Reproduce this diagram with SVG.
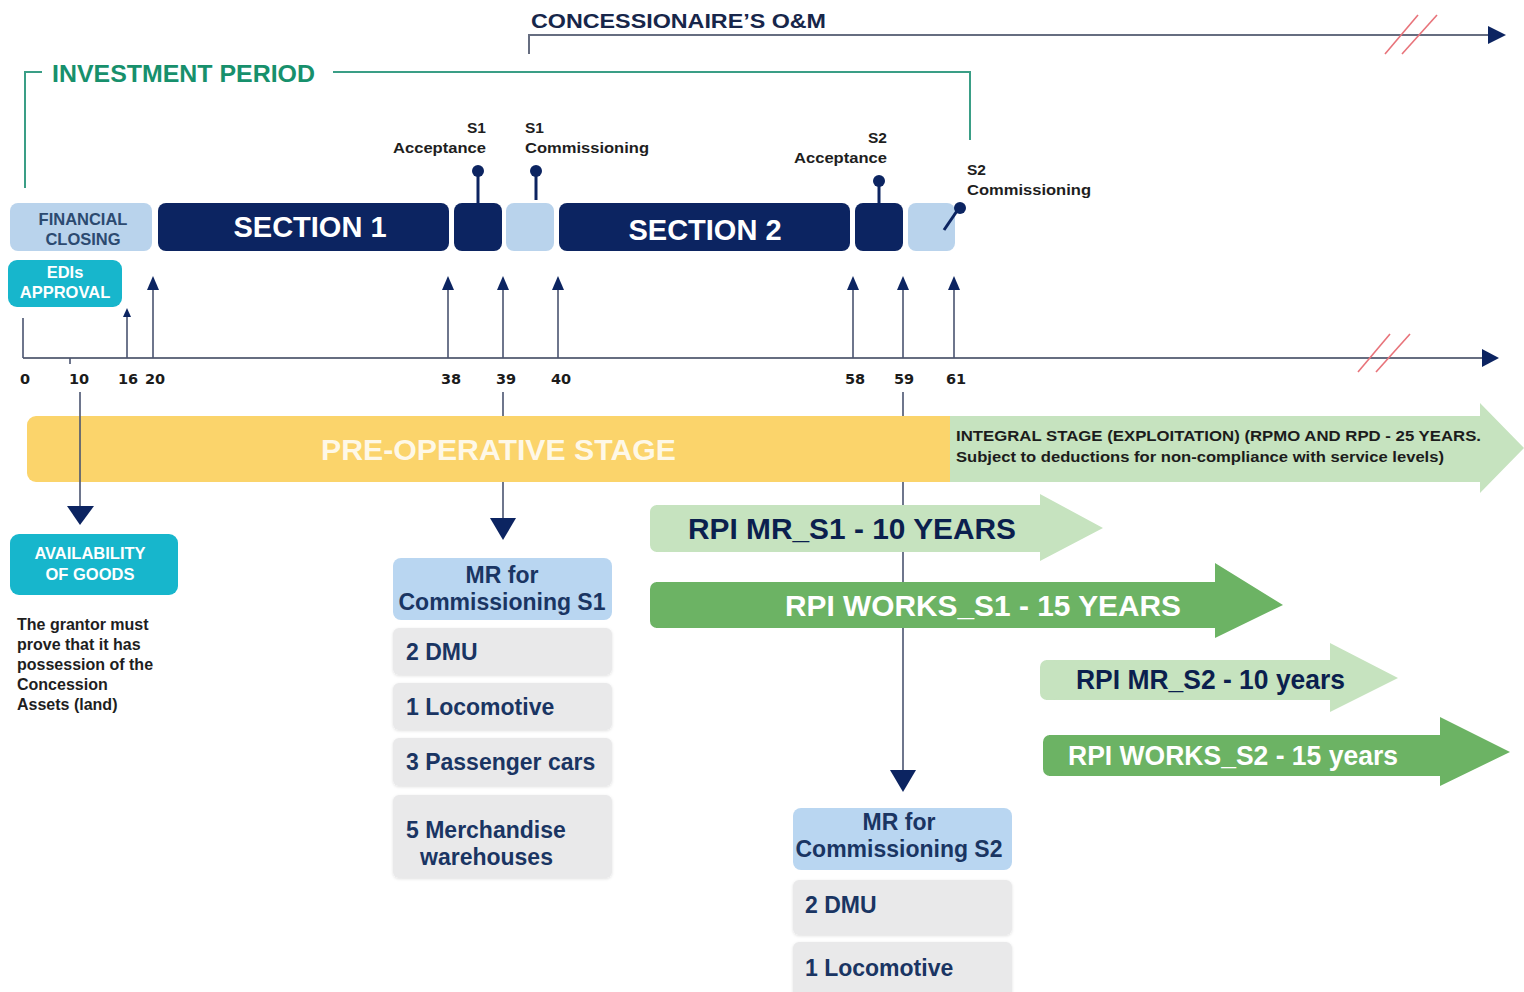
<svg xmlns="http://www.w3.org/2000/svg" width="1524" height="992" viewBox="0 0 1524 992">
  <style>
    .sans { font-family: "Liberation Sans", Arial, sans-serif; font-weight: bold; }
    .num { font-family: "DejaVu Sans", Verdana, sans-serif; font-weight: bold; font-size: 14.5px; fill: #1b1b1b; text-anchor: middle; }
    .mile { font-family: "Liberation Sans", Arial, sans-serif; font-weight: bold; font-size: 15.5px; fill: #1e1e1e; }
    .navy { fill: #0c2461; }
    .pale { fill: #b9d3ec; }
    .cyan { fill: #17b6cc; }
    .hdr { fill: #b9d6f1; }
    .item { fill: #e9e9ea; filter: url(#soft); }
    .itemtx { font-family: "Liberation Sans", Arial, sans-serif; font-weight: bold; font-size: 23px; fill: #1a3563; }
    .axis { stroke: #666d80; stroke-width: 2; fill: none; }
    .conn { stroke: #4a5470; stroke-width: 1.6; fill: none; }
    .head { fill: #0c2461; }
    .pin { stroke: #0c2461; stroke-width: 3; fill: none; }
    .hash { stroke: #e8737a; stroke-width: 1.6; fill: none; }
    .teal { stroke: #3a9e86; stroke-width: 2; fill: none; }
    .lgreen { fill: #c6e3bf; }
    .mgreen { fill: #6cb364; }
  </style>
  <defs>
    <filter id="soft" x="-5%" y="-10%" width="110%" height="130%">
      <feDropShadow dx="0" dy="1" stdDeviation="1.5" flood-color="#000" flood-opacity="0.12"/>
    </filter>
  </defs>

  <rect width="1524" height="992" fill="#ffffff"/>

  <!-- concessionaire O&M bracket -->
  <g id="om-period">
    <text class="sans" x="531" y="28" font-size="21" fill="#17264a" textLength="295" lengthAdjust="spacingAndGlyphs">CONCESSIONAIRE’S O&amp;M</text>
    <polyline class="axis" points="529,54 529,35 1490,35"/>
    <polygon class="head" points="1488,26 1506,35 1488,44"/>
    <line class="hash" x1="1385" y1="54" x2="1418" y2="15"/>
    <line class="hash" x1="1402" y1="54" x2="1437" y2="15"/>
  </g>

  <!-- investment period bracket -->
  <g id="investment-period">
    <polyline class="teal" points="25,188 25,72 42,72"/>
    <polyline class="teal" points="333,72 970,72 970,140"/>
    <text class="sans" x="52" y="82" font-size="23" fill="#17906c" textLength="263" lengthAdjust="spacingAndGlyphs">INVESTMENT PERIOD</text>
  </g>

  <!-- phase bars -->
  <g id="financial-closing">
    <rect class="pale" x="10" y="203" width="142" height="48" rx="8"/>
    <text class="sans" font-size="16.5" fill="#2c4a70" text-anchor="middle"><tspan x="83" y="225">FINANCIAL</tspan><tspan x="83" y="245">CLOSING</tspan></text>
  </g>
  <g id="section-1">
    <rect class="navy" x="158" y="203" width="291" height="48" rx="8"/>
    <text class="sans" x="310" y="237" font-size="29" fill="#ffffff" text-anchor="middle">SECTION 1</text>
  </g>
  <g id="s1-acceptance">
    <rect class="navy" x="454" y="203" width="48" height="48" rx="8"/>
    <line class="pin" x1="478" y1="171" x2="478" y2="203"/>
    <circle class="head" cx="478" cy="171" r="6"/>
    <text class="mile" text-anchor="end"><tspan x="486" y="133">S1</tspan><tspan x="486" y="153" textLength="93" lengthAdjust="spacingAndGlyphs">Acceptance</tspan></text>
  </g>
  <g id="s1-commissioning">
    <rect class="pale" x="506" y="203" width="48" height="48" rx="8"/>
    <line class="pin" x1="536" y1="171" x2="536" y2="200"/>
    <circle class="head" cx="536" cy="171" r="6"/>
    <text class="mile"><tspan x="525" y="133">S1</tspan><tspan x="525" y="153" textLength="124" lengthAdjust="spacingAndGlyphs">Commissioning</tspan></text>
  </g>
  <g id="section-2">
    <rect class="navy" x="559" y="203" width="291" height="48" rx="8"/>
    <text class="sans" x="705" y="240" font-size="29" fill="#ffffff" text-anchor="middle">SECTION 2</text>
  </g>
  <g id="s2-acceptance">
    <rect class="navy" x="855" y="203" width="48" height="48" rx="8"/>
    <line class="pin" x1="879" y1="181" x2="879" y2="203"/>
    <circle class="head" cx="879" cy="181" r="6"/>
    <text class="mile" text-anchor="end"><tspan x="887" y="143">S2</tspan><tspan x="887" y="163" textLength="93" lengthAdjust="spacingAndGlyphs">Acceptance</tspan></text>
  </g>
  <g id="s2-commissioning">
    <rect class="pale" x="908" y="203" width="47" height="48" rx="8"/>
    <line class="pin" x1="944" y1="230" x2="959" y2="208"/>
    <circle class="head" cx="960" cy="208" r="6"/>
    <text class="mile"><tspan x="967" y="175">S2</tspan><tspan x="967" y="195" textLength="124" lengthAdjust="spacingAndGlyphs">Commissioning</tspan></text>
  </g>
  <g id="edis-approval">
    <rect class="cyan" x="8" y="260" width="114" height="47" rx="9"/>
    <text class="sans" font-size="16.5" fill="#ffffff" text-anchor="middle"><tspan x="65" y="278">EDIs</tspan><tspan x="65" y="298">APPROVAL</tspan></text>
  </g>

  <!-- stage bars -->
  <g id="pre-operative-stage">
    <rect x="27" y="416" width="935" height="66" rx="9" fill="#fbd46b"/>
    <text class="sans" x="321" y="460" font-size="29" fill="#ffffff" fill-opacity="0.85" textLength="355" lengthAdjust="spacingAndGlyphs">PRE-OPERATIVE STAGE</text>
  </g>
  <g id="integral-stage">
    <polygon class="lgreen" points="950,416 1480,416 1480,403 1524,448 1480,493 1480,482 950,482"/>
    <text class="sans" font-size="15" fill="#1c1c1c"><tspan x="956" y="441" textLength="525" lengthAdjust="spacingAndGlyphs">INTEGRAL STAGE (EXPLOITATION) (RPMO AND RPD - 25 YEARS.</tspan><tspan x="956" y="462" textLength="488" lengthAdjust="spacingAndGlyphs">Subject to deductions for non-compliance with service levels)</tspan></text>
  </g>

  <!-- timeline axis, ticks and milestone arrows -->
  <g id="connectors">
    <line class="axis" x1="23" y1="358" x2="1484" y2="358"/>
    <polygon class="head" points="1482,349 1499,358 1482,367"/>
    <line class="hash" x1="1358" y1="372" x2="1390" y2="334"/>
    <line class="hash" x1="1376" y1="372" x2="1410" y2="334"/>
    <line class="conn" x1="23" y1="318" x2="23" y2="358"/>
    <line class="conn" x1="70" y1="358" x2="70" y2="364"/>

    <line class="conn" x1="127" y1="316" x2="127" y2="358"/>
    <polygon class="head" points="123,317 127,308 131,317"/>
    <g id="up-arrows">
      <line class="conn" x1="153" y1="288" x2="153" y2="358"/>
      <polygon class="head" points="147,290 153,276 159,290"/>
      <line class="conn" x1="448" y1="288" x2="448" y2="358"/>
      <polygon class="head" points="442,290 448,276 454,290"/>
      <line class="conn" x1="503" y1="288" x2="503" y2="358"/>
      <polygon class="head" points="497,290 503,276 509,290"/>
      <line class="conn" x1="558" y1="288" x2="558" y2="358"/>
      <polygon class="head" points="552,290 558,276 564,290"/>
      <line class="conn" x1="853" y1="288" x2="853" y2="358"/>
      <polygon class="head" points="847,290 853,276 859,290"/>
      <line class="conn" x1="903" y1="288" x2="903" y2="358"/>
      <polygon class="head" points="897,290 903,276 909,290"/>
      <line class="conn" x1="954" y1="288" x2="954" y2="358"/>
      <polygon class="head" points="948,290 954,276 960,290"/>
    </g>

    <g id="down-arrows">
      <line class="conn" x1="80" y1="392" x2="80" y2="508"/>
      <polygon class="head" points="67,506 94,506 80,525"/>
      <line class="conn" x1="503" y1="392" x2="503" y2="416"/>
      <line class="conn" x1="503" y1="482" x2="503" y2="520"/>
      <polygon class="head" points="490,518 516,518 503,540"/>
      <line class="conn" x1="903" y1="392" x2="903" y2="416"/>
      <line class="conn" x1="903" y1="482" x2="903" y2="772"/>
      <polygon class="head" points="890,770 916,770 903,792"/>
    </g>
  </g>

  <!-- remuneration arrows, drawn over the S2 drop line -->
  <g id="rpi-mr-s1">
    <polygon class="lgreen" points="656,505 1040,505 1040,494 1103,528 1040,561 1040,552 656,552"/>
    <rect class="lgreen" x="650" y="505" width="20" height="47" rx="7"/>
    <text class="sans" x="688" y="539" font-size="30" fill="#0b1f4e" textLength="328" lengthAdjust="spacingAndGlyphs">RPI MR_S1 - 10 YEARS</text>
  </g>
  <g id="rpi-works-s1">
    <polygon class="mgreen" points="656,582 1215,582 1215,563 1283,605 1215,638 1215,628 656,628"/>
    <rect class="mgreen" x="650" y="582" width="20" height="46" rx="7"/>
    <text class="sans" x="785" y="616" font-size="30" fill="#ffffff" textLength="396" lengthAdjust="spacingAndGlyphs">RPI WORKS_S1 - 15 YEARS</text>
  </g>
  <g id="rpi-mr-s2">
    <polygon class="lgreen" points="1046,660 1330,660 1330,643 1398,678 1330,712 1330,700 1046,700"/>
    <rect class="lgreen" x="1040" y="660" width="20" height="40" rx="7"/>
    <text class="sans" x="1076" y="689" font-size="27" fill="#0b1f4e" textLength="269" lengthAdjust="spacingAndGlyphs">RPI MR_S2 - 10 years</text>
  </g>
  <g id="rpi-works-s2">
    <polygon class="mgreen" points="1049,735 1440,735 1440,717 1510,752 1440,786 1440,776 1049,776"/>
    <rect class="mgreen" x="1043" y="735" width="20" height="41" rx="7"/>
    <text class="sans" x="1068" y="765" font-size="27" fill="#ffffff" textLength="330" lengthAdjust="spacingAndGlyphs">RPI WORKS_S2 - 15 years</text>
  </g>

  <g id="axis-labels">
    <text class="num" x="25" y="384">0</text>
    <text class="num" x="79" y="384">10</text>
    <text class="num" x="128" y="384">16</text>
    <text class="num" x="155" y="384">20</text>
    <text class="num" x="451" y="384">38</text>
    <text class="num" x="506" y="384">39</text>
    <text class="num" x="561" y="384">40</text>
    <text class="num" x="855" y="384">58</text>
    <text class="num" x="904" y="384">59</text>
    <text class="num" x="956" y="384">61</text>
  </g>

  <!-- availability of goods -->
  <g id="availability-of-goods">
    <rect class="cyan" x="10" y="534" width="168" height="61" rx="9"/>
    <text class="sans" font-size="16.5" fill="#ffffff" text-anchor="middle"><tspan x="90" y="559">AVAILABILITY</tspan><tspan x="90" y="580">OF GOODS</tspan></text>
    <text class="sans" font-size="16" fill="#1e1e1e"><tspan x="17" y="630">The grantor must</tspan><tspan x="17" y="650">prove that it has</tspan><tspan x="17" y="670">possession of the</tspan><tspan x="17" y="690">Concession</tspan><tspan x="17" y="710">Assets (land)</tspan></text>
  </g>

  <!-- rolling stock required for commissioning S1 -->
  <g id="mr-commissioning-s1">
    <rect class="hdr" x="393" y="558" width="219" height="62" rx="8"/>
    <text class="itemtx" text-anchor="middle"><tspan x="502" y="583">MR for</tspan><tspan x="502" y="610">Commissioning S1</tspan></text>
    <rect class="item" x="393" y="628" width="219" height="47" rx="6"/>
    <text class="itemtx" x="406" y="660">2 DMU</text>
    <rect class="item" x="393" y="683" width="219" height="47" rx="6"/>
    <text class="itemtx" x="406" y="715">1 Locomotive</text>
    <rect class="item" x="393" y="738" width="219" height="48" rx="6"/>
    <text class="itemtx" x="406" y="770">3 Passenger cars</text>
    <rect class="item" x="393" y="795" width="219" height="83" rx="6"/>
    <text class="itemtx"><tspan x="406" y="838">5 Merchandise</tspan><tspan x="420" y="865">warehouses</tspan></text>
  </g>

  <!-- rolling stock required for commissioning S2 -->
  <g id="mr-commissioning-s2">
    <rect class="hdr" x="793" y="808" width="219" height="62" rx="8"/>
    <text class="itemtx" text-anchor="middle"><tspan x="899" y="830">MR for</tspan><tspan x="899" y="857">Commissioning S2</tspan></text>
    <rect class="item" x="793" y="880" width="219" height="55" rx="6"/>
    <text class="itemtx" x="805" y="913">2 DMU</text>
    <rect class="item" x="793" y="942" width="219" height="60" rx="6"/>
    <text class="itemtx" x="805" y="976">1 Locomotive</text>
  </g>
</svg>
